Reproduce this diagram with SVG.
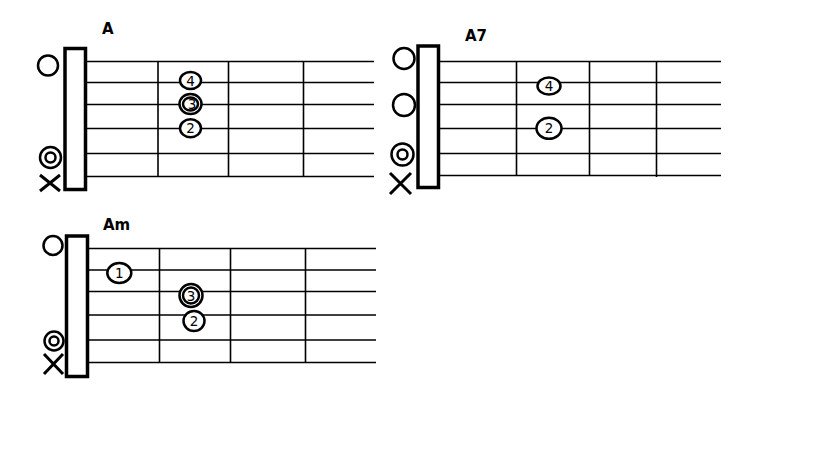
<svg xmlns="http://www.w3.org/2000/svg" width="819" height="460" viewBox="0 0 819 460">
<style>
.bg{fill:#fff}
.str{stroke:#000;stroke-width:1.6;fill:none}
.nut{fill:#fff;stroke:#000;stroke-width:3.5}
.ring{fill:#fff;stroke:#000;stroke-width:2.5}
.x{stroke:#000;stroke-width:3;fill:none}
.fin{fill:#fff;stroke:#000;stroke-width:2.5}
.num{font-family:"DejaVu Sans",sans-serif;font-size:13.5px;fill:#000;text-anchor:middle}
.title{font-family:"DejaVu Sans","Liberation Sans",sans-serif;font-size:15px;font-weight:bold;fill:#000}
</style>
<rect class="bg" x="0" y="0" width="819" height="460"/>

<g id="chord-A">
  <text class="title" x="102" y="34">A</text>
  <g class="grid">
    <path class="str" d="M86 61.5H374M86 82.5H374M86 104.5H374M86 128.5H374M86 153.5H374M86 176.5H374"/>
    <path class="str" d="M158 61.5V176.5M228.5 61.5V176.5M303.5 61.5V176.5"/>
  </g>
  <rect class="nut" x="65" y="48.5" width="20.5" height="141"/>
  <circle class="ring" cx="48" cy="65.5" r="10"/>
  <circle class="ring" cx="50.5" cy="157.5" r="10.5"/>
  <circle class="ring" cx="50.5" cy="157.5" r="5"/>
  <path class="x" d="M40 175L60 191M60 175L40 191"/>
  <ellipse class="fin" cx="190.5" cy="80.5" rx="10.5" ry="8.5"/>
  <text class="num" x="190.5" y="85.5">4</text>
  <ellipse class="fin" cx="190.5" cy="104" rx="11" ry="10"/>
  <ellipse class="fin" cx="190.5" cy="104" rx="7.5" ry="6.5"/>
  <text class="num" x="192" y="109">3</text>
  <ellipse class="fin" cx="190.5" cy="128.3" rx="10.5" ry="9"/>
  <text class="num" x="190.5" y="133">2</text>
</g>

<g id="chord-A7">
  <text class="title" x="465" y="41">A7</text>
  <g class="grid">
    <path class="str" d="M439 61.5H721M439 82.5H721M439 104.5H721M439 128.5H721M439 153.5H721M439 175.5H721"/>
    <path class="str" d="M516.5 61.5V175.5M589.5 61.5V175.5M656.5 61.5V177"/>
  </g>
  <rect class="nut" x="418" y="46" width="20.5" height="141.5"/>
  <circle class="ring" cx="404" cy="58.5" r="10.5"/>
  <circle class="ring" cx="404" cy="105" r="11"/>
  <circle class="ring" cx="402.5" cy="154.5" r="11"/>
  <circle class="ring" cx="402.5" cy="154.5" r="5"/>
  <path class="x" d="M390 173L411 194M411 173L390 194"/>
  <ellipse class="fin" cx="549" cy="86" rx="11.5" ry="8.5"/>
  <text class="num" x="549" y="91">4</text>
  <ellipse class="fin" cx="549" cy="128.3" rx="12.5" ry="10.5"/>
  <text class="num" x="549" y="133">2</text>
</g>

<g id="chord-Am">
  <text class="title" x="103" y="230">Am</text>
  <g class="grid">
    <path class="str" d="M88 248.5H376M88 270H376M88 291.5H376M88 315H376M88 340H376M88 362.5H376"/>
    <path class="str" d="M159.5 248.5V362.5M230.5 248.5V362.5M305.5 248.5V362.5"/>
  </g>
  <rect class="nut" x="66.5" y="236" width="21" height="140.5"/>
  <circle class="ring" cx="53" cy="245.5" r="9.5"/>
  <circle class="ring" cx="54" cy="341" r="9.5"/>
  <circle class="ring" cx="54" cy="341" r="4.5"/>
  <path class="x" d="M44 354L63 374M63 354L44 374"/>
  <ellipse class="fin" cx="119.3" cy="273" rx="12" ry="10"/>
  <text class="num" x="119.3" y="278">1</text>
  <ellipse class="fin" cx="191" cy="295.5" rx="11.5" ry="11.5"/>
  <ellipse class="fin" cx="191" cy="295.5" rx="8" ry="8"/>
  <text class="num" x="191" y="300.5">3</text>
  <ellipse class="fin" cx="194" cy="321" rx="10.5" ry="10"/>
  <text class="num" x="194" y="326">2</text>
</g>
</svg>
